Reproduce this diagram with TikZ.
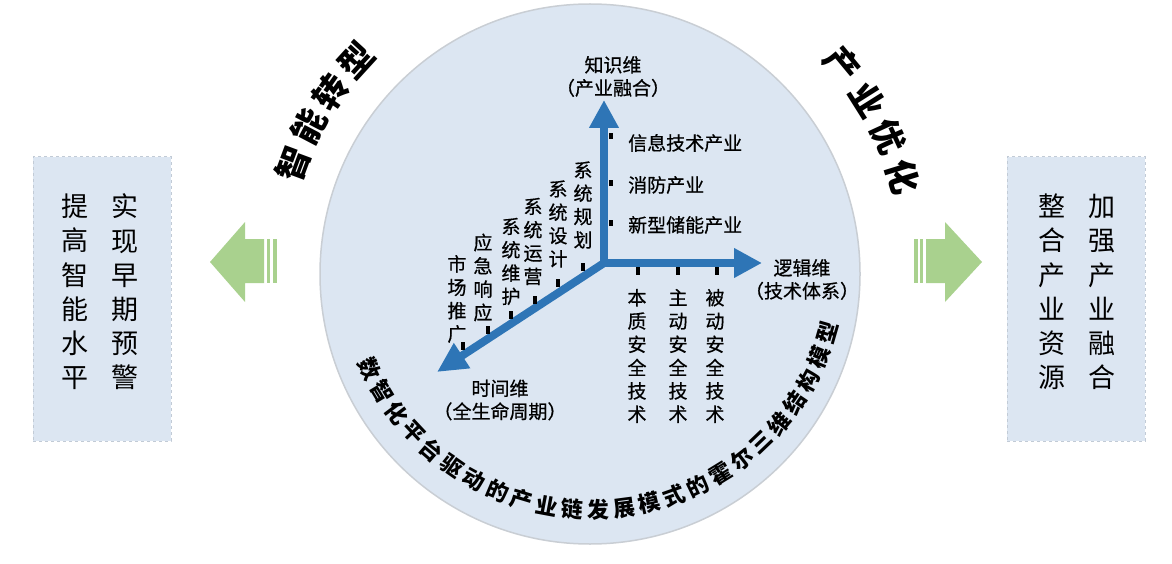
\documentclass[tikz,border=0pt]{standalone}
\usepackage{fontspec}
\setmainfont{Noto Sans CJK SC}
\newfontfamily\medfont[FakeBold=0.6]{Noto Sans CJK SC}
\usetikzlibrary{arrows.meta}
\definecolor{circfill}{HTML}{DCE6F2}
\definecolor{circline}{HTML}{C9CED4}
\definecolor{axisblue}{HTML}{2E75B6}
\definecolor{arrgreen}{HTML}{A9D18E}
\definecolor{boxline}{HTML}{C2CBD6}
\begin{document}
\begin{tikzpicture}[x=1pt,y=1pt,
  lbl/.style={inner sep=0pt, font=\medfont\fontsize{19}{23}\selectfont, align=center, text=black},
  collbl/.style={inner sep=0pt, font=\medfont\fontsize{19}{23.3}\selectfont, align=center, text=black},
  boxtxt/.style={inner sep=0pt, font=\fontsize{27}{34.2}\selectfont, align=center},
  sidebox/.style={draw=boxline, dashed, fill=circfill, line width=1pt, minimum width=138pt, minimum height=284pt, inner sep=0pt},
  axis/.style={draw=axisblue, line width=8pt, line join=miter},
  tickv/.style={rectangle, fill=black, minimum width=3.5pt, minimum height=6pt, inner sep=0pt},
  tickd/.style={rectangle, fill=black, minimum width=3.3pt, minimum height=8pt, inner sep=0pt},
  bigbold/.style={inner sep=0pt, font=\fontsize{34}{34}\selectfont\bfseries},
  curv/.style={inner sep=0pt, font=\fontsize{22}{22}\selectfont\bfseries},
  greenarr/.style={fill=arrgreen}
]
\useasboundingbox (0,0) rectangle (1172,-564);

% main circle
\node[circle, draw=circline, fill=circfill, line width=1.5pt, minimum size=540pt, inner sep=0pt] (circ) at (590,-274) {};
\coordinate (C) at (590,-274);
\coordinate (C2) at (592,-265);

% side boxes
\node[sidebox] (lbox) at (102,-299) {};
\node[sidebox] (rbox) at (1076,-299) {};
\node[boxtxt] (l1) at (75,-292) {提\\高\\智\\能\\水\\平};
\node[boxtxt] (l2) at (125,-292) {实\\现\\早\\期\\预\\警};
\node[boxtxt] (r1) at (1052,-292) {整\\合\\产\\业\\资\\源};
\node[boxtxt] (r2) at (1102,-292) {加\\强\\产\\业\\融\\合};

% green arrows
\fill[greenarr] (210,-262) -- (245,-222) -- (245,-239) -- (264,-239) -- (264,-283) -- (245,-283) -- (245,-302) -- cycle;
\fill[greenarr] (267,-239) rectangle (270,-283);
\fill[greenarr] (273,-239) rectangle (277,-283);
\fill[greenarr] (982,-262) -- (945,-222) -- (945,-239) -- (926,-239) -- (926,-283) -- (945,-283) -- (945,-302) -- cycle;
\fill[greenarr] (920,-239) rectangle (923,-283);
\fill[greenarr] (914,-239) rectangle (918,-283);

% axes
\coordinate (O) at (604,-263);
\coordinate (U) at (604,-100);
\coordinate (R) at (762,-263);
\coordinate (D) at (437,-372);
\draw[axis, {Triangle[width=28pt,length=28pt]}-{Triangle[width=28pt,length=28pt]}] (U) -- (O) -- (R);
\draw[axis, -{Triangle[width=28pt,length=30pt]}] (O) -- (D);

% ticks
\node[tickv] (tv1) at (611,-136) {};
\node[tickv] (tv2) at (611,-183) {};
\node[tickv] (tv3) at (611,-223) {};
\node[tickd] (th1) at (638,-271) {};
\node[tickd] (th2) at (678,-271) {};
\node[tickd] (th3) at (717,-271) {};
\node[tickd] (td1) at (583,-267) {};
\node[tickd] (td2) at (558,-283) {};
\node[tickd] (td3) at (535,-300) {};
\node[tickd] (td4) at (511,-315) {};
\node[tickd] (td5) at (488,-330) {};
\node[tickd] (td6) at (463,-346) {};

% axis labels
\node[lbl] (kdim) at (613,-76.5) {知识维\\（产业融合）};
\node[lbl] (ldim) at (802,-279.5) {逻辑维\\（技术体系）};
\node[lbl] (tdim) at (500,-400) {时间维\\（全生命周期）};

\node[lbl, anchor=west] (k1) at (628,-143) {信息技术产业};
\node[lbl, anchor=west] (k2) at (628,-185) {消防产业};
\node[lbl, anchor=west] (k3) at (628,-225) {新型储能产业};

\node[collbl] (h1) at (637,-356) {本\\质\\安\\全\\技\\术};
\node[collbl] (h2) at (678,-356) {主\\动\\安\\全\\技\\术};
\node[collbl] (h3) at (715,-356) {被\\动\\安\\全\\技\\术};

\node[collbl] (d1) at (583,-205) {系\\统\\规\\划};
\node[collbl] (d2) at (558,-224) {系\\统\\设\\计};
\node[collbl] (d3) at (533,-241.5) {系\\统\\运\\营};
\node[collbl] (d4) at (511,-261.5) {系\\统\\维\\护};
\node[collbl] (d5) at (483,-277.5) {应\\急\\响\\应};
\node[collbl] (d6) at (457,-299) {市\\场\\推\\广};

% top labels along arc
\foreach \ch [count=\i from 0] in {智,能,转,型}{
  \pgfmathsetmacro\a{159.7-7.37*\i}
  \node[bigbold, rotate=\a-90] (zn\i) at ([shift={(\a:317)}]C) {\ch};
}
\foreach \ch [count=\i from 0] in {产,业,优,化}{
  \pgfmathsetmacro\a{39.7-7.5*\i}
  \node[bigbold, rotate=\a-90] (cy\i) at ([shift={(\a:328)}]C) {\ch};
}

% bottom curved title
\foreach \ch [count=\i from 0] in {数,智,化,平,台,驱,动,的,产,业,链,发,展,模,式,的,霍,尔,三,维,结,构,模,型}{
  \pgfmathsetmacro\a{205+6.04*\i}
  \node[curv, rotate=\a+90] (bt\i) at ([shift={(\a:245)}]C2) {\ch};
}
\end{tikzpicture}
\end{document}
